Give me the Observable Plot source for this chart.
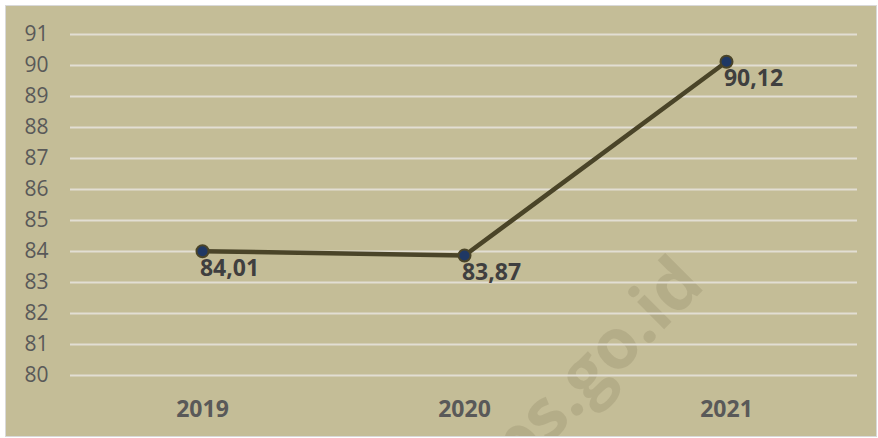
<!DOCTYPE html>
<html>
<head>
<meta charset="utf-8">
<script src="https://cdn.jsdelivr.net/npm/d3@7"></script>
<script src="https://cdn.jsdelivr.net/npm/@observablehq/plot@0.6"></script>
<style>
  body { margin: 0; background: #ffffff; }
  #wrap { position: absolute; left: 5px; top: 5px; width: 870px; height: 430px;
          border: 1px solid #d9d9d9; background: #C4BD97; overflow: hidden; }
  #wm { position: absolute; left: 495px; top: 420px; transform: rotate(-45deg);
        transform-origin: left bottom; font: bold 70px "Open Sans", sans-serif;
        color: rgba(120,112,80,0.20); white-space: nowrap; pointer-events: none; }
</style>
</head>
<body>
<div id="wrap"><div id="wm">bps.go.id</div></div>
<script>
const years = ["2019", "2020", "2021"];
const values = [84.01, 83.87, 90.12];
const labels = ["84,01", "83,87", "90,12"];
const yTicks = [80, 81, 82, 83, 84, 85, 86, 87, 88, 89, 90, 91];

const data = years.map((y, i) => ({year: y, value: values[i], label: labels[i]}));

const chart = Plot.plot({
  width: 870,
  height: 430,
  marginLeft: 64,
  marginRight: 19,
  marginTop: 28,
  marginBottom: 61,
  style: {background: "transparent", fontFamily: "'Open Sans', sans-serif"},
  x: {type: "band", domain: years, padding: 0, label: null, axis: null},
  y: {domain: [80, 91], label: null, axis: null},
  marks: [
    Plot.ruleY(yTicks, {stroke: "#e2ded3", strokeWidth: 2}),
    Plot.axisY({ticks: yTicks, tickSize: 0, tickPadding: 22, fill: "#595959", label: null, ariaLabel: "yax"}),
    Plot.axisX({tickSize: 0, tickPadding: 25, fill: "#595959", label: null, ariaLabel: "xax"}),
    Plot.line(data, {x: "year", y: "value", stroke: "#4A4428", strokeWidth: 4.5}),
    Plot.dot(data, {x: "year", y: "value", r: 6, fill: "#1F3864", stroke: "#4A4428", strokeWidth: 2}),
    Plot.text(data, {x: "year", y: "value", text: "label", dx: 27, dy: 17, fill: "#3f3f3f",
                     fontSize: 23, fontWeight: "bold"})
  ]
});
document.getElementById("wrap").appendChild(chart);
chart.style.position = "absolute";
chart.style.left = "0px";
chart.style.top = "0px";
d3.select(chart).selectAll("text").each(function() {
  const t = this;
  let g = t.parentNode, lab = "";
  while (g && g !== chart) { const a = g.getAttribute && g.getAttribute("aria-label"); if (a) { lab = a; break; } g = g.parentNode; }
  if (/yax/.test(lab)) { t.style.setProperty("font-size", "21px", "important"); }
  else if (/xax/.test(lab)) { t.style.setProperty("font-size", "23px", "important"); t.style.setProperty("font-weight", "bold", "important"); }
});
</script>
</body>
</html>
